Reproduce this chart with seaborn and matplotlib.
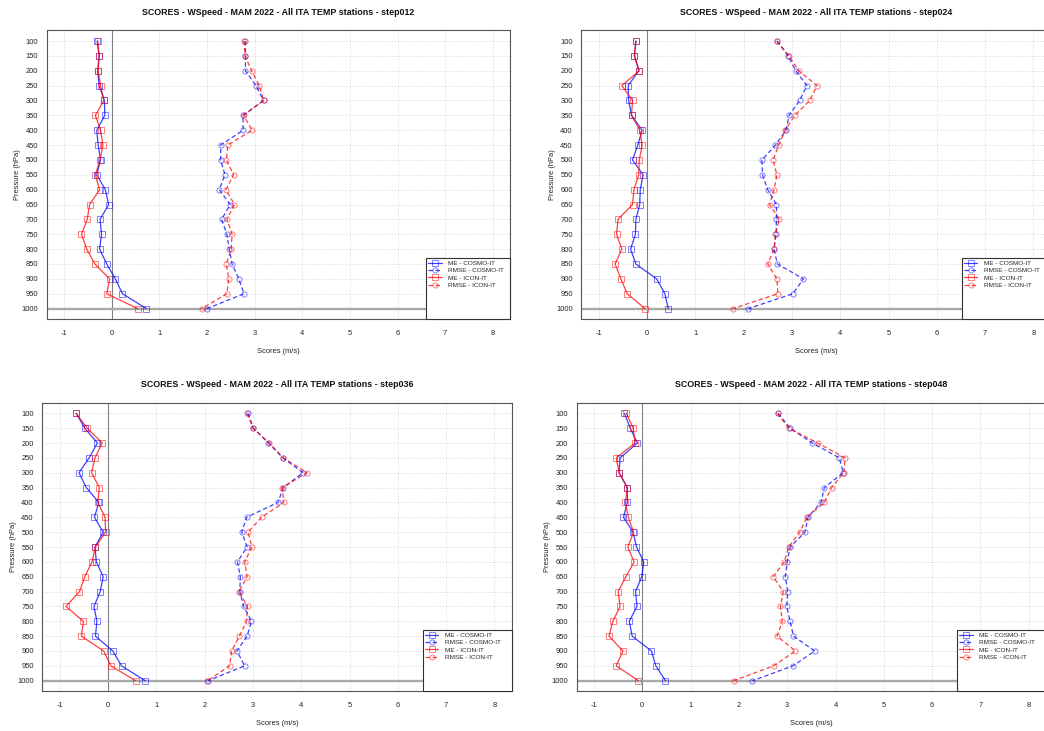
import matplotlib
matplotlib.use("Agg")
import matplotlib.pyplot as plt
import pandas as pd
import seaborn as sns
from matplotlib.patches import Rectangle

# ---------------- data ----------------
levels = [100, 150, 200, 250, 300, 350, 400, 450, 500, 550,
          600, 650, 700, 750, 800, 850, 900, 950, 1000]
x_ticks = [-1, 0, 1, 2, 3, 4, 5, 6, 7, 8]
steps = ["step012", "step024", "step036", "step048"]
series_labels = ["ME - COSMO-IT", "RMSE - COSMO-IT", "ME - ICON-IT", "RMSE - ICON-IT"]

# step012
me_cosmo_012 = [-0.30, -0.26, -0.29, -0.26, -0.15, -0.14, -0.31, -0.28, -0.23, -0.31,
                -0.13, -0.06, -0.24, -0.21, -0.25, -0.10, 0.08, 0.23, 0.73]
rmse_cosmo_012 = [2.81, 2.81, 2.81, 3.03, 3.19, 2.76, 2.76, 2.29, 2.29, 2.38,
                  2.26, 2.49, 2.31, 2.42, 2.47, 2.53, 2.67, 2.78, 2.00]
me_icon_012 = [-0.29, -0.26, -0.28, -0.23, -0.16, -0.34, -0.23, -0.18, -0.24, -0.34,
               -0.25, -0.46, -0.51, -0.63, -0.52, -0.35, -0.04, -0.10, 0.55]
rmse_icon_012 = [2.78, 2.80, 2.94, 3.10, 3.19, 2.77, 2.95, 2.44, 2.41, 2.56,
                 2.40, 2.58, 2.42, 2.53, 2.51, 2.41, 2.46, 2.42, 1.89]

# step024
me_cosmo_024 = [-0.23, -0.26, -0.17, -0.39, -0.38, -0.32, -0.10, -0.19, -0.30, -0.08,
                -0.14, -0.15, -0.23, -0.24, -0.34, -0.23, 0.20, 0.37, 0.44]
rmse_cosmo_024 = [2.69, 2.92, 3.08, 3.31, 3.16, 2.94, 2.88, 2.66, 2.38, 2.39,
                  2.50, 2.68, 2.68, 2.67, 2.63, 2.70, 3.24, 3.02, 2.10]
me_icon_024 = [-0.23, -0.26, -0.16, -0.52, -0.30, -0.32, -0.15, -0.10, -0.16, -0.17,
               -0.27, -0.30, -0.60, -0.63, -0.52, -0.66, -0.54, -0.41, -0.04]
rmse_icon_024 = [2.69, 2.94, 3.14, 3.52, 3.37, 3.06, 2.86, 2.73, 2.61, 2.69,
                 2.63, 2.54, 2.74, 2.66, 2.63, 2.50, 2.69, 2.71, 1.78]

# step036
me_cosmo_036 = [-0.66, -0.48, -0.22, -0.39, -0.60, -0.45, -0.19, -0.28, -0.10, -0.27,
                -0.24, -0.10, -0.16, -0.29, -0.23, -0.26, 0.10, 0.28, 0.77]
rmse_cosmo_036 = [2.90, 3.01, 3.32, 3.62, 4.04, 3.63, 3.52, 2.87, 2.77, 2.88,
                  2.68, 2.74, 2.73, 2.81, 2.97, 2.88, 2.67, 2.83, 2.07]
me_icon_036 = [-0.66, -0.43, -0.12, -0.27, -0.34, -0.18, -0.21, -0.06, -0.05, -0.26,
               -0.33, -0.48, -0.59, -0.87, -0.51, -0.55, -0.09, 0.06, 0.57]
rmse_icon_036 = [2.88, 3.00, 3.34, 3.63, 4.12, 3.61, 3.64, 3.18, 2.90, 2.98,
                 2.83, 2.88, 2.71, 2.89, 2.87, 2.72, 2.56, 2.52, 2.06]

# step048
me_cosmo_048 = [-0.37, -0.25, -0.10, -0.46, -0.48, -0.31, -0.31, -0.39, -0.19, -0.12,
                0.03, -0.01, -0.14, -0.11, -0.27, -0.21, 0.19, 0.28, 0.48]
rmse_cosmo_048 = [2.81, 3.06, 3.52, 4.08, 4.16, 3.77, 3.70, 3.43, 3.37, 3.06,
                  3.00, 2.96, 3.01, 2.99, 3.06, 3.13, 3.57, 3.12, 2.28]
me_icon_048 = [-0.33, -0.19, -0.15, -0.54, -0.48, -0.31, -0.35, -0.29, -0.18, -0.30,
               -0.17, -0.34, -0.50, -0.46, -0.61, -0.69, -0.40, -0.54, -0.08]
rmse_icon_048 = [2.80, 3.03, 3.63, 4.20, 4.17, 3.92, 3.77, 3.41, 3.26, 3.03,
                 2.94, 2.71, 2.92, 2.86, 2.90, 2.79, 3.17, 2.72, 1.89]

panel_data = [
    (me_cosmo_012, rmse_cosmo_012, me_icon_012, rmse_icon_012),
    (me_cosmo_024, rmse_cosmo_024, me_icon_024, rmse_icon_024),
    (me_cosmo_036, rmse_cosmo_036, me_icon_036, rmse_icon_036),
    (me_cosmo_048, rmse_cosmo_048, me_icon_048, rmse_icon_048),
]

# ---------------- style ----------------
sns.set_style("white")
plt.rcParams["font.family"] = ["Liberation Sans", "DejaVu Sans"]

W, H = 1044, 731
fig = plt.figure(figsize=(W / 100, H / 100), dpi=100)

# axes boxes in pixels (left, top, right, bottom); right panels run off the page
boxes = [
    (46.7, 30.3, 510.0, 319.3),
    (581.3, 30.3, 1050.8, 319.3),
    (42.3, 402.6, 511.8, 691.4),
    (576.6, 402.6, 1046.1, 691.4),
]
legend_widths = [84.0, 89.0, 89.0, 89.0]

BLUE_LINE = "#0000ffc0"
BLUE_MK = "#0000ff80"
RED_LINE = "#ff0000c0"
RED_MK = "#ff000080"

styles = [
    dict(color=BLUE_LINE, mec=BLUE_MK, marker="s", linestyle="-"),
    dict(color=BLUE_LINE, mec=BLUE_MK, marker="o", linestyle=(0, (3.5, 2.2))),
    dict(color=RED_LINE, mec=RED_MK, marker="s", linestyle="-"),
    dict(color=RED_LINE, mec=RED_MK, marker="o", linestyle=(0, (3.5, 2.2))),
]

for (l, t, r, b), lw_px, step, data in zip(boxes, legend_widths, steps, panel_data):
    ax = fig.add_axes([l / W, 1 - b / H, (r - l) / W, (b - t) / H])
    ax.set_axisbelow(True)
    ax.grid(True, linestyle=":", color="#cfcfcf", linewidth=0.6)
    ax.axvline(0, color="#808080", linewidth=0.8, zorder=1.5)
    ax.axhline(1000, color="#a9a9a9", linewidth=1.7, zorder=1.5)

    for vals, lab, st in zip(data, series_labels, styles):
        df = pd.DataFrame({"score": vals, "level": levels})
        sns.lineplot(data=df, x="score", y="level", orient="y", sort=False,
                     estimator=None, ax=ax, label=lab,
                     color=st["color"], linestyle=st["linestyle"], linewidth=0.9,
                     marker=st["marker"], markersize=3.7, markerfacecolor="none",
                     markeredgecolor=st["mec"], markeredgewidth=0.7, zorder=3)

    ax.set_xlim(-1.36, 8.36)
    ax.set_ylim(1036, 64)
    ax.set_xticks(x_ticks)
    ax.set_yticks(levels)
    ax.set_xticklabels([str(v) for v in x_ticks])
    ax.set_yticklabels([str(v) for v in levels])
    ax.tick_params(axis="both", direction="out", length=3, width=0.6,
                   color="#555555", labelsize=5.4, labelcolor="#222222")
    ax.tick_params(axis="x", pad=4.5)
    ax.tick_params(axis="y", pad=3.2)
    for sp in ax.spines.values():
        sp.set_color("#555555")
        sp.set_linewidth(0.8)

    ax.set_xlabel("Scores (m/s)", fontsize=5.4, color="#222222", labelpad=8)
    ax.set_ylabel("Pressure (hPa)", fontsize=5.4, color="#222222", labelpad=0)
    ax.set_title(f"SCORES - WSpeed - MAM 2022 - All ITA TEMP stations - {step}",
                 fontsize=6.4, fontweight="bold", color="#111111", pad=11.0)

    # legend box (bottom-right, R style with extra space below entries)
    pw = r - l
    ph = b - t
    x0 = 1 - lw_px / pw
    y1 = 61.0 / ph
    ax.add_patch(Rectangle((x0, 0), 1 - x0, y1, transform=ax.transAxes,
                           facecolor="white", edgecolor="#333333", linewidth=0.8,
                           zorder=4.5, clip_on=False))
    handles, labels = ax.get_legend_handles_labels()
    leg = ax.legend(handles, labels, loc="upper left", bbox_to_anchor=(x0, y1),
                    frameon=False, fontsize=4.6, handlelength=2.1,
                    handletextpad=1.0, labelspacing=0.28, borderpad=0.35,
                    borderaxespad=0)
    leg.set_zorder(5)

fig.savefig("out.png", dpi=100)
